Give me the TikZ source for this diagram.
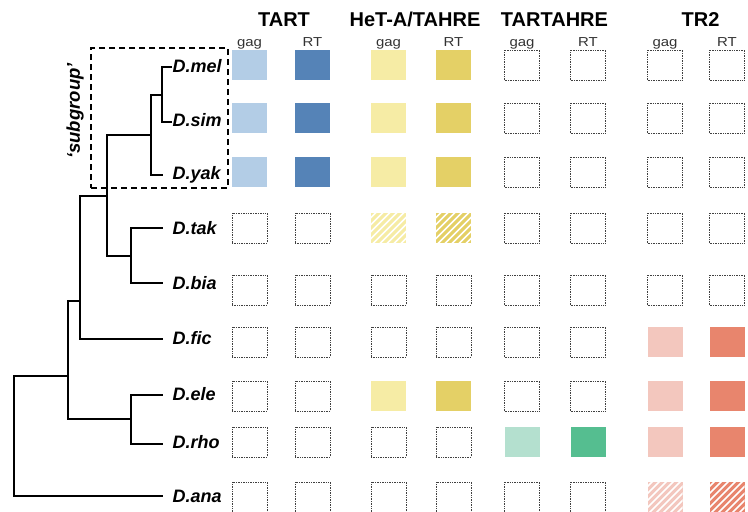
\documentclass[tikz,border=0pt]{standalone}
\usepackage{fontspec}
\setmainfont{Liberation Sans}
\definecolor{tartL}{HTML}{B3CDE6}
\definecolor{tartD}{HTML}{5583B7}
\definecolor{hetL}{HTML}{F6ECA5}
\definecolor{hetD}{HTML}{E4D066}
\definecolor{taL}{HTML}{B4E0CF}
\definecolor{taD}{HTML}{55BE90}
\definecolor{trL}{HTML}{F3C7BE}
\definecolor{trD}{HTML}{E8856D}
\definecolor{txtgray}{HTML}{333333}
\tikzset{
  sq/.style={minimum width=35pt, minimum height=30pt, inner sep=0pt, outer sep=0pt},
  emptysq/.style={sq, draw=black!75, line width=1pt, dash pattern=on 0.9pt off 0.8pt},
  fullsq/.style={sq},
  branch/.style={line width=2.1pt, line join=miter},
  species/.style={anchor=base west, inner sep=0pt, font=\fontsize{18}{20}\selectfont\bfseries\itshape},
  header/.style={anchor=base, inner sep=0pt, font=\fontsize{20}{24}\selectfont\bfseries},
  sublab/.style={anchor=base, inner sep=0pt, text=txtgray, font=\fontsize{13}{14}\selectfont},
  subbox/.style={draw, line width=1.3pt, dash pattern=on 6pt off 4pt, minimum width=137pt, minimum height=140pt, inner sep=0pt},
}
\newcommand{\hatchsq}[4]{%
  \node[sq, fill=#4] (#1) at (#2,#3) {};
  \begin{scope}
    \clip (#1.south west) rectangle (#1.north east);
    \foreach \k in {-49,-42,...,49} {
      \draw[white, line width=1.6pt] ([shift={(\k-25,25)}]#1.center) -- ++(50,-50);
    }
  \end{scope}%
}
\newcommand{\cell}[5]{%
  \ifcase#4\relax
    \node[emptysq] (#1) at (#2,#3) {};
  \or
    \node[fullsq, fill=#5] (#1) at (#2,#3) {};
  \or
    \hatchsq{#1}{#2}{#3}{#5}
  \fi
}
\begin{document}
\begin{tikzpicture}[x=1pt,y=-1pt]
\useasboundingbox (0,0) rectangle (748,512);

% headers
\node[header] (hTART) at (284,26) {TART};
\node[header] (hHET) at (415,26) {HeT-A/TAHRE};
\node[header] (hTA) at (554.5,26) {TARTAHRE};
\node[header] (hTR) at (700.5,26) {TR2};

% sub labels
\foreach \x/\t/\n in {249.5/gag/a, 312.5/RT/b, 388.5/gag/c, 453.5/RT/d, 522/gag/e, 588/RT/f, 665/gag/g, 727/RT/h} {
  \node[sublab] (s\n) at (\x,46) {\scalebox{1.15}[1]{\t}};
}

% squares
\foreach \r/\y/\A/\B/\C/\D in {mel/65/1/1/0/0, sim/118/1/1/0/0, yak/172/1/1/0/0, tak/228/0/2/0/0, bia/290/0/0/0/0, fic/342/0/0/0/1, ele/396/0/1/0/1, rho/442/0/0/1/1, ana/497/0/0/0/2} {
  \cell{\r-a}{249.5}{\y}{\A}{tartL}
  \cell{\r-b}{312.5}{\y}{\A}{tartD}
  \cell{\r-c}{388.5}{\y}{\B}{hetL}
  \cell{\r-d}{453.5}{\y}{\B}{hetD}
  \cell{\r-e}{522}{\y}{\C}{taL}
  \cell{\r-f}{588}{\y}{\C}{taD}
  \cell{\r-g}{665}{\y}{\D}{trL}
  \cell{\r-h}{727}{\y}{\D}{trD}
}

% species labels
\foreach \r/\y in {mel/66, sim/120, yak/173, tak/228, bia/283, fic/338, ele/394, rho/442, ana/496} {
  \node[species] (L\r) at (172.5,\y+6.4) {D.\r};
}

% tree
\coordinate (e-mel) at (172,67);
\coordinate (e-sim) at (172,122);
\coordinate (e-yak) at (163,175);
\coordinate (e-tak) at (163,228);
\coordinate (e-bia) at (163,283);
\coordinate (e-fic) at (163,339);
\coordinate (e-ele) at (163,395);
\coordinate (e-rho) at (163,444);
\coordinate (e-ana) at (163,496);
\coordinate (n1) at (162,95);
\coordinate (n2) at (151,135);
\coordinate (n3) at (107,196);
\coordinate (n4) at (131,256);
\coordinate (n5) at (80,301);
\coordinate (n6) at (131,419);
\coordinate (n7) at (68,376);
\coordinate (root) at (14,436);

\draw[branch] (n1) |- (e-mel);
\draw[branch] (n1) |- (e-sim);
\draw[branch] (n2) |- (n1);
\draw[branch] (n2) |- (e-yak);
\draw[branch] (n3) |- (n2);
\draw[branch] (n3) |- (n4);
\draw[branch] (n4) |- (e-tak);
\draw[branch] (n4) |- (e-bia);
\draw[branch] (n5) |- (n3);
\draw[branch] (n5) |- (e-fic);
\draw[branch] (n7) |- (n5);
\draw[branch] (n7) |- (n6);
\draw[branch] (n6) |- (e-ele);
\draw[branch] (n6) |- (e-rho);
\draw[branch] (root) |- (n7);
\draw[branch] (root) |- (e-ana);

% subgroup box
\node[subbox] (sg) at (159.5,118) {};
\node[rotate=90, inner sep=0pt, font=\fontsize{18.5}{20}\selectfont\bfseries\itshape] (sglab) at (75,111) {‘subgroup’};
\end{tikzpicture}
\end{document}
